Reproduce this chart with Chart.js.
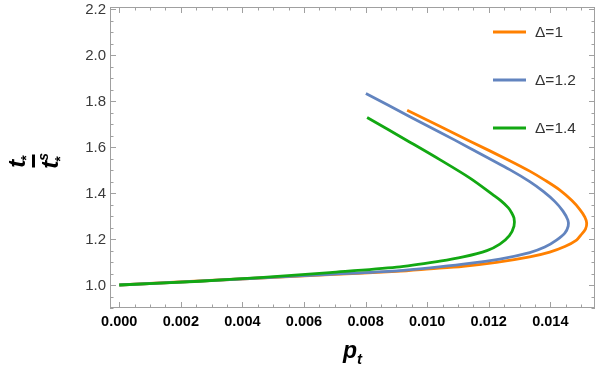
<!DOCTYPE html>
<html><head><meta charset="utf-8">
<script src="https://cdn.jsdelivr.net/npm/chart.js@4/dist/chart.umd.min.js"></script>
<style>html,body{margin:0;padding:0;background:#fff}#wrap{width:598px;height:368px}</style>
</head><body><div id="wrap"><canvas id="c" width="598" height="368"></canvas></div>
<script>
// ---- data ----
const seriesLabels = ['Δ=1', 'Δ=1.2', 'Δ=1.4'];
const seriesColors = ['#FF8000', '#6284BF', '#12A812'];

const d1X = [0, 0.00424, 0.00684, 0.00901, 0.01009, 0.01117, 0.01225, 0.01333, 0.01398, 0.01447, 0.01485, 0.01499, 0.01514, 0.01518, 0.01512, 0.01496, 0.01470, 0.01431, 0.01382, 0.01333, 0.01268, 0.01139, 0.01041, 0.00935];
const d1Y = [1.000, 1.0283, 1.0450, 1.0596, 1.0704, 1.0817, 1.0987, 1.1226, 1.1435, 1.1674, 1.1957, 1.2174, 1.2435, 1.2696, 1.2957, 1.3283, 1.3674, 1.4130, 1.4565, 1.4957, 1.5413, 1.6261, 1.6913, 1.7609];

const d12X = [0, 0.00424, 0.00684, 0.00901, 0.01009, 0.01117, 0.01236, 0.01333, 0.01382, 0.01420, 0.01447, 0.01458, 0.01457, 0.01441, 0.01415, 0.01377, 0.01333, 0.01268, 0.01139, 0.01041, 0.00944, 0.00801];
const d12Y = [1.000, 1.0283, 1.0465, 1.0620, 1.0745, 1.0905, 1.1130, 1.1413, 1.1652, 1.1957, 1.2261, 1.2565, 1.2826, 1.3217, 1.3630, 1.4074, 1.4500, 1.5022, 1.5957, 1.6652, 1.7326, 1.8335];

const d14X = [0, 0.00262, 0.00457, 0.00684, 0.00901, 0.01041, 0.01117, 0.01194, 0.01236, 0.01267, 0.01282, 0.01282, 0.01273, 0.01263, 0.01239, 0.01214, 0.01139, 0.01041, 0.00944, 0.00805];
const d14Y = [1.000, 1.0165, 1.0326, 1.0543, 1.0775, 1.1040, 1.1225, 1.1500, 1.1783, 1.2152, 1.2565, 1.2913, 1.3174, 1.3370, 1.3674, 1.3926, 1.4652, 1.5457, 1.6217, 1.7291];

const xTicks = [0, 0.002, 0.004, 0.006, 0.008, 0.010, 0.012, 0.014];
const xTickLabels = ['0.000', '0.002', '0.004', '0.006', '0.008', '0.010', '0.012', '0.014'];
const yTicks = [1.0, 1.2, 1.4, 1.6, 1.8, 2.0, 2.2];
const yTickLabels = ['1.0', '1.2', '1.4', '1.6', '1.8', '2.0', '2.2'];
const xMinorStep = 0.0005;
const yMinorStep = 0.05;

function pts(xs, ys) { return xs.map((v, i) => ({ x: v, y: ys[i] })); }
const seriesData = [pts(d1X, d1Y), pts(d12X, d12Y), pts(d14X, d14Y)];

const FONT = '"Liberation Sans", Arial, sans-serif';

const framePlugin = {
  id: 'frame',
  afterDraw(chart) {
    const { ctx, chartArea: a, scales: { x, y } } = chart;
    ctx.save();
    // frame
    ctx.strokeStyle = '#a0a0a0';
    ctx.lineWidth = 1;
    ctx.strokeRect(a.left + 0.5, a.top + 0.5, a.right - a.left - 1, a.bottom - a.top - 1);
    // ticks
    ctx.beginPath();
    const isMajor = (v, arr) => arr.some(t => Math.abs(t - v) < 1e-9);
    for (let k = 0; ; k++) {
      const v = k * xMinorStep;
      if (v > x.max) break;
      const px = Math.round(x.getPixelForValue(v)) + 0.5;
      const len = isMajor(v, xTicks) ? 6 : 3.5;
      ctx.moveTo(px, a.bottom); ctx.lineTo(px, a.bottom - len);
      ctx.moveTo(px, a.top); ctx.lineTo(px, a.top + len);
    }
    for (let k = 0; ; k++) {
      const v = 0.9 + k * yMinorStep;
      if (v > y.max + 1e-9) break;
      const py = Math.round(y.getPixelForValue(v)) + 0.5;
      const len = isMajor(v, yTicks) ? 6 : 3.5;
      ctx.moveTo(a.left, py); ctx.lineTo(a.left + len, py);
      ctx.moveTo(a.right, py); ctx.lineTo(a.right - len, py);
    }
    ctx.stroke();

    // x tick labels
    ctx.fillStyle = '#000';
    ctx.font = 'bold 14.5px ' + FONT;
    ctx.textAlign = 'center';
    ctx.textBaseline = 'middle';
    xTicks.forEach((v, i) => ctx.fillText(xTickLabels[i], x.getPixelForValue(v), a.bottom + 14));
    // y tick labels
    ctx.fillStyle = '#3a3a3a';
    ctx.font = '15px ' + FONT;
    ctx.textAlign = 'right';
    yTicks.forEach((v, i) => ctx.fillText(yTickLabels[i], a.left - 4, y.getPixelForValue(v) + 0.5));

    // x axis title p_t
    ctx.fillStyle = '#000';
    ctx.textAlign = 'left';
    ctx.textBaseline = 'alphabetic';
    ctx.font = 'italic bold 23px ' + FONT;
    const cx = (a.left + a.right) / 2;
    const pw = ctx.measureText('p').width;
    ctx.font = 'italic bold 15px ' + FONT;
    const tw = ctx.measureText('t').width;
    const startX = cx - (pw + tw) / 2;
    ctx.font = 'italic bold 23px ' + FONT;
    ctx.fillText('p', startX, 358);
    ctx.font = 'italic bold 15px ' + FONT;
    ctx.fillText('t', startX + pw, 364);

    // y axis title: t_* / t_*^s (rotated)
    ctx.save();
    ctx.translate(33.5, 161);
    ctx.rotate(-Math.PI / 2);
    ctx.font = 'italic bold 24px ' + FONT;
    const tW = ctx.measureText('t').width;
    ctx.font = 'bold 14px ' + FONT;
    const sW = ctx.measureText('*').width;
    // numerator
    const nx = -(tW + sW) / 2;
    ctx.font = 'italic bold 24px ' + FONT;
    ctx.fillText('t', nx, -9);
    ctx.font = 'bold 14px ' + FONT;
    ctx.fillText('*', nx + tW - 1, -3);
    // bar
    ctx.fillRect(-6.5, -1.5, 13, 3);
    // denominator
    const dx = -(tW + sW) / 2 - 1;
    ctx.font = 'italic bold 24px ' + FONT;
    ctx.fillText('t', dx, 24);
    ctx.font = 'bold 14px ' + FONT;
    ctx.fillText('*', dx + tW - 1, 31);
    ctx.font = 'italic bold 14px ' + FONT;
    ctx.fillText('s', dx + tW, 14);
    ctx.restore();

    // legend
    ctx.font = '15.5px ' + FONT;
    ctx.textBaseline = 'middle';
    ctx.textAlign = 'left';
    const ly = [32, 80, 128];
    seriesLabels.forEach((lab, i) => {
      ctx.strokeStyle = seriesColors[i];
      ctx.lineWidth = 3;
      ctx.beginPath();
      ctx.moveTo(493, ly[i]); ctx.lineTo(526, ly[i]);
      ctx.stroke();
      ctx.fillStyle = '#333';
      ctx.fillText(lab, 535, ly[i] + 1);
    });
    ctx.restore();
  }
};

new Chart(document.getElementById('c'), {
  type: 'scatter',
  data: {
    datasets: seriesLabels.map((lab, i) => ({
      label: lab,
      data: seriesData[i],
      showLine: true,
      borderColor: seriesColors[i],
      backgroundColor: seriesColors[i],
      borderWidth: 2.8,
      pointRadius: 0,
      tension: 0.3,
      order: 2 - i
    }))
  },
  options: {
    responsive: false,
    devicePixelRatio: 1,
    animation: false,
    layout: { padding: { left: 110, right: 3, top: 7, bottom: 60 } },
    plugins: { legend: { display: false }, tooltip: { enabled: false } },
    scales: {
      x: { type: 'linear', min: -0.0003, max: 0.01545, display: false },
      y: { type: 'linear', min: 0.9, max: 2.21, display: false }
    }
  },
  plugins: [framePlugin]
});
</script>
</body></html>
